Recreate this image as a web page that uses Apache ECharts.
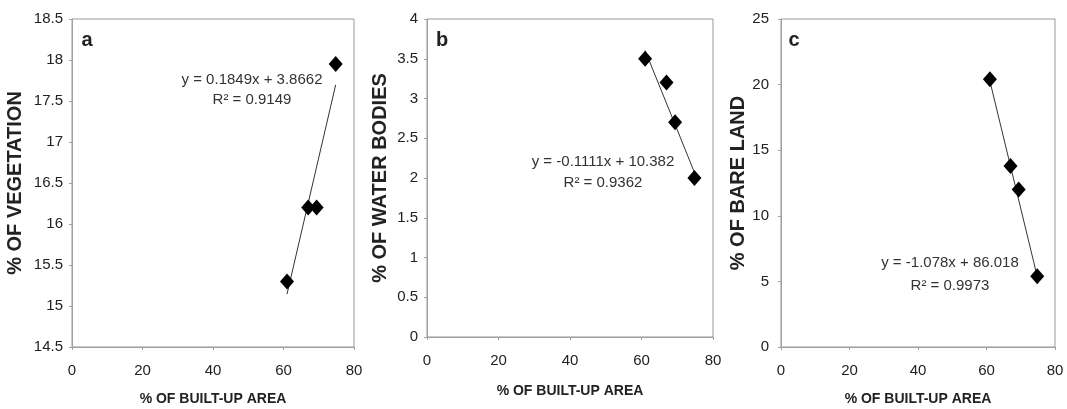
<!DOCTYPE html>
<html>
<head>
<meta charset="utf-8">
<script src="https://cdn.jsdelivr.net/npm/echarts@6/dist/echarts.min.js"></script>
<style>
html,body{margin:0;padding:0;background:#fff;}
#chart{width:1067px;height:409px;}
</style>
</head>
<body>
<div id="chart"></div>
<script>
// ---- data ----
const builtUp = [61, 67, 69.4, 74.8];
const vegetation = [15.3, 16.2, 16.2, 17.95];
const waterBodies = [3.5, 3.2, 2.7, 2.0];
const bareLand = [20.4, 13.8, 12.0, 5.4];
const slopes = [0.1849, -0.1111, -1.078];
const intercepts = [3.8662, 10.382, 86.018];
const eqTexts = ['y = 0.1849x + 3.8662', 'y = -0.1111x + 10.382', 'y = -1.078x + 86.018'];
const r2Texts = ['R² = 0.9149', 'R² = 0.9362', 'R² = 0.9973'];
const panelLabels = ['a', 'b', 'c'];
const yNames = ['% OF VEGETATION', '% OF WATER BODIES', '% OF BARE LAND'];
const xName = '% OF BUILT-UP AREA';
const yMin = [14.5, 0, 0];
const yMax = [18.5, 4, 25];
const yInterval = [0.5, 0.5, 5];
const xMin = 0, xMax = 80, xInterval = 20;

// ---- layout / style ----
const FONT = 'Liberation Sans, Arial, sans-serif';
const grids = [
  {left: 72, top: 19, width: 282, height: 328},
  {left: 427, top: 19, width: 286, height: 318},
  {left: 781, top: 19, width: 274, height: 328}
];
const yNameGap = [47, 37, 32];
const yLabelMargin = [9, 9, 12];
const xNameGap = [45, 47, 45];
const eqPos = [[252, 80, 100], [603, 162, 183], [950, 263, 286]];
const labelPos = [[87, 40], [442, 40], [794, 40]];
const ys = [vegetation, waterBodies, bareLand];

const axisLine = {lineStyle: {color: '#a0a0a0', width: 1}};
const axisTick = {show: true, length: 3, lineStyle: {color: '#a0a0a0'}};

const option = {
  backgroundColor: '#fff',
  animation: false,
  grid: grids.map(g => Object.assign({show: true, borderColor: '#999', borderWidth: 1, backgroundColor: 'transparent', containLabel: false, outerBoundsMode: 'none'}, g)),
  xAxis: grids.map((g, i) => ({
    type: 'value', gridIndex: i, min: xMin, max: xMax, interval: xInterval,
    name: xName, nameLocation: 'middle', nameGap: xNameGap[i],
    nameTextStyle: {fontFamily: FONT, fontWeight: 'bold', fontSize: 14, color: '#222'},
    axisLine: axisLine, axisTick: axisTick, splitLine: {show: false},
    axisLabel: {fontFamily: FONT, fontSize: 15, color: '#222', margin: 16}
  })),
  yAxis: grids.map((g, i) => ({
    type: 'value', gridIndex: i, min: yMin[i], max: yMax[i], interval: yInterval[i],
    name: yNames[i], nameLocation: 'middle', nameGap: yNameGap[i], nameRotate: 90,
    nameTextStyle: {fontFamily: FONT, fontWeight: 'bold', fontSize: 20, color: '#222'},
    axisLine: Object.assign({show: true}, axisLine), axisTick: axisTick, splitLine: {show: false},
    axisLabel: {fontFamily: FONT, fontSize: 15, color: '#222', margin: yLabelMargin[i]}
  })),
  series: [],
  graphic: []
};

ys.forEach((yv, i) => {
  const lo = Math.min.apply(null, builtUp), hi = Math.max.apply(null, builtUp);
  option.series.push({
    type: 'line', xAxisIndex: i, yAxisIndex: i, showSymbol: false, silent: true,
    lineStyle: {color: '#333', width: 1},
    data: [[lo, slopes[i] * lo + intercepts[i]], [hi, slopes[i] * hi + intercepts[i]]],
    z: 2
  });
  option.series.push({
    type: 'scatter', xAxisIndex: i, yAxisIndex: i, symbol: 'diamond', symbolSize: [14, 16],
    itemStyle: {color: '#000', opacity: 1},
    data: builtUp.map((x, k) => [x, yv[k]]),
    z: 3
  });
  option.graphic.push({
    type: 'text', x: eqPos[i][0], y: eqPos[i][1], z: 10,
    style: {text: eqTexts[i], font: '15px ' + FONT, fill: '#333', textAlign: 'center', textVerticalAlign: 'middle'}
  });
  option.graphic.push({
    type: 'text', x: eqPos[i][0], y: eqPos[i][2], z: 10,
    style: {text: r2Texts[i], font: '15px ' + FONT, fill: '#333', textAlign: 'center', textVerticalAlign: 'middle'}
  });
  option.graphic.push({
    type: 'text', x: labelPos[i][0], y: labelPos[i][1], z: 10,
    style: {text: panelLabels[i], font: 'bold 20px ' + FONT, fill: '#222', textAlign: 'center', textVerticalAlign: 'middle'}
  });
});

const chart = echarts.init(document.getElementById('chart'), null, {renderer: 'canvas'});
chart.setOption(option);
</script>
</body>
</html>
